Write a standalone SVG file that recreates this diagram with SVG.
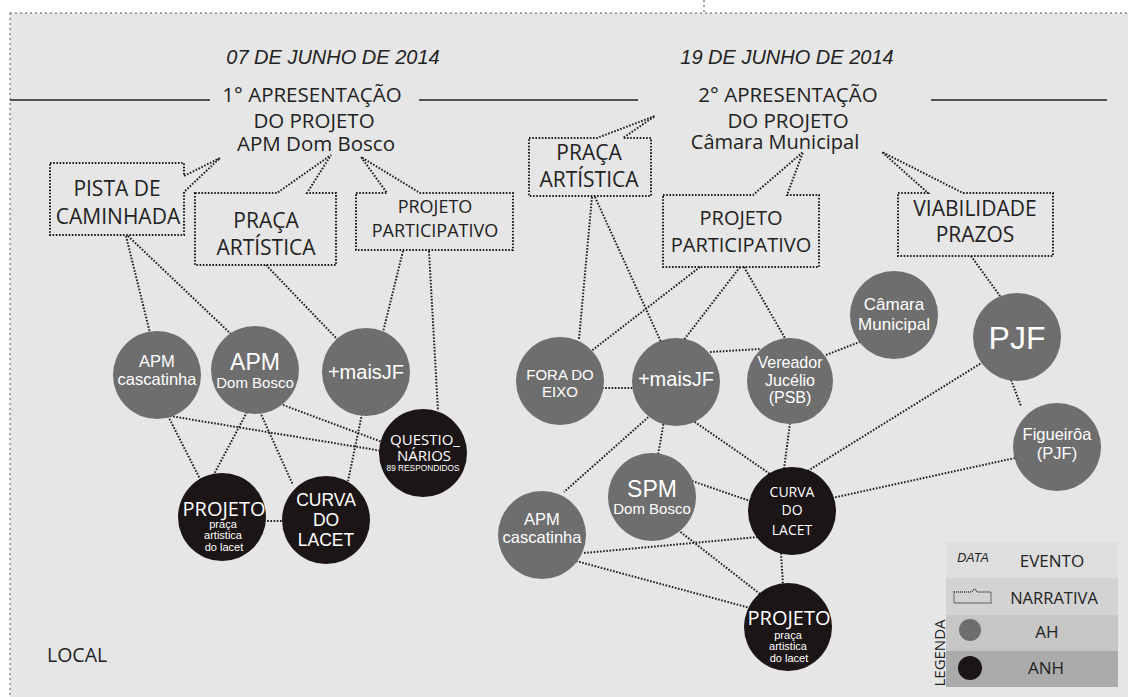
<svg xmlns="http://www.w3.org/2000/svg" width="1128" height="697" viewBox="0 0 1128 697">
<style>
.bg{fill:#e6e6e6}
.border{fill:none;stroke:#555;stroke-width:1;stroke-dasharray:2 3}
.rule{stroke:#222;stroke-width:1.6}
.dot{fill:none;stroke:#1e1e1e;stroke-width:2;stroke-dasharray:1.6 1.6}
.ah{fill:#6e6e6e}
.anh{fill:#1b1515}
.date{font-family:"Liberation Sans",Arial,sans-serif;font-style:italic;font-size:20px;fill:#222;text-anchor:middle}
.head{font-family:"Open Sans","Noto Sans",sans-serif;font-size:20.5px;fill:#222;text-anchor:middle}
.box{font-family:"Open Sans","Noto Sans",sans-serif;font-size:21px;fill:#222;text-anchor:middle}
.w{font-family:"Liberation Sans",Arial,sans-serif;fill:#fff;text-anchor:middle}
.ws{font-family:"Open Sans","Noto Sans",sans-serif;fill:#fff;text-anchor:middle}
.leg{font-family:"Open Sans","Noto Sans",sans-serif;fill:#222;text-anchor:middle}
</style>
<rect x="0" y="0" width="1128" height="697" fill="#fff"/>
<rect class="bg" x="10" y="13" width="1118" height="684"/>
<path class="border" d="M10,13 H1128 M10,13 V697 M704,0 V13"/>

<g id="headings">
<text class="date" x="333" y="64">07 DE JUNHO DE 2014</text>
<text class="date" x="787" y="64">19 DE JUNHO DE 2014</text>
<line class="rule" x1="10" y1="100" x2="210" y2="100"/>
<line class="rule" x1="419" y1="100" x2="638" y2="100"/>
<line class="rule" x1="931" y1="100" x2="1107" y2="100"/>
</g>
<g id="evento1">
<text class="head" x="312" y="102">1° APRESENTAÇÃO</text>
<text class="head" x="314" y="128">DO PROJETO</text>
<text class="head" x="316" y="151">APM Dom Bosco</text>
</g>
<g id="evento2">
<text class="head" x="788" y="102">2° APRESENTAÇÃO</text>
<text class="head" x="788" y="128">DO PROJETO</text>
<text class="head" x="775" y="149" style="font-size:20px">Câmara Municipal</text>
</g>

<g id="connectors">
<line class="dot" x1="126" y1="236" x2="150" y2="333"/>
<line class="dot" x1="128" y1="236" x2="232" y2="335"/>
<line class="dot" x1="266" y1="265" x2="338" y2="340"/>
<line class="dot" x1="403" y1="251" x2="383" y2="332"/>
<line class="dot" x1="429" y1="251" x2="438" y2="411"/>
<line class="dot" x1="168" y1="416" x2="200" y2="479"/>
<line class="dot" x1="170" y1="416" x2="382" y2="451"/>
<line class="dot" x1="283" y1="405" x2="382" y2="442"/>
<line class="dot" x1="247" y1="412" x2="213" y2="476"/>
<line class="dot" x1="260" y1="412" x2="293" y2="485"/>
<line class="dot" x1="362" y1="414" x2="348" y2="481"/>
<line class="dot" x1="264" y1="521" x2="285" y2="521"/>

<line class="dot" x1="592" y1="197" x2="579" y2="339"/>
<line class="dot" x1="595" y1="197" x2="661" y2="342"/>
<line class="dot" x1="700" y1="267" x2="590" y2="352"/>
<line class="dot" x1="740" y1="267" x2="683" y2="341"/>
<line class="dot" x1="744" y1="267" x2="786" y2="340"/>
<line class="dot" x1="971" y1="256" x2="1000" y2="296"/>
<line class="dot" x1="602" y1="388" x2="635" y2="388"/>
<line class="dot" x1="710" y1="352" x2="760" y2="349"/>
<line class="dot" x1="826" y1="355" x2="862" y2="341"/>
<line class="dot" x1="653" y1="413" x2="564" y2="492"/>
<line class="dot" x1="664" y1="421" x2="658" y2="455"/>
<line class="dot" x1="692" y1="420" x2="770" y2="474"/>
<line class="dot" x1="790" y1="423" x2="784" y2="469"/>
<line class="dot" x1="983" y1="362" x2="806" y2="472"/>
<line class="dot" x1="1011" y1="380" x2="1021" y2="406"/>
<line class="dot" x1="1015" y1="458" x2="832" y2="498"/>
<line class="dot" x1="692" y1="481" x2="750" y2="501"/>
<line class="dot" x1="678" y1="530" x2="760" y2="594"/>
<line class="dot" x1="584" y1="553" x2="758" y2="537"/>
<line class="dot" x1="576" y1="561" x2="750" y2="608"/>
<line class="dot" x1="781" y1="553" x2="783" y2="585"/>
</g>

<g id="narr-pista">
<path class="dot" d="M50,163 H184 V176 L220,158 L184,192 V235 H50 Z"/>
<text class="box" x="117" y="196">PISTA DE</text>
<text class="box" x="118" y="224">CAMINHADA</text>
</g>
<g id="narr-praca1">
<path class="dot" d="M195,193 H277 L331,155 L307,193 H336 V265 H195 Z"/>
<text class="box" x="266" y="228">PRAÇA</text>
<text class="box" x="266" y="255">ARTÍSTICA</text>
</g>
<g id="narr-projeto1">
<path class="dot" d="M356,193 H387 L361,157 L420,193 H513 V250 H356 Z"/>
<text class="box" x="435" y="213" style="font-size:18px">PROJETO</text>
<text class="box" x="435" y="237" style="font-size:18px">PARTICIPATIVO</text>
</g>
<g id="narr-praca2">
<path class="dot" d="M529,138 H597 L655,116 L623,138 H651 V196 H529 Z"/>
<text class="box" x="589" y="160">PRAÇA</text>
<text class="box" x="589" y="187">ARTÍSTICA</text>
</g>
<g id="narr-projeto2">
<path class="dot" d="M663,195 H753 L803,152 L787,195 H819 V267 H663 Z"/>
<text class="box" x="741" y="225" style="font-size:20px">PROJETO</text>
<text class="box" x="741" y="252" style="font-size:20px">PARTICIPATIVO</text>
</g>
<g id="narr-viab">
<path class="dot" d="M898,193 H928 L882,152 L963,193 H1053 V256 H898 Z"/>
<text class="box" x="975" y="216">VIABILIDADE</text>
<text class="box" x="975" y="242">PRAZOS</text>
</g>

<g id="l-apm-cascatinha">
<circle class="ah" cx="157" cy="375" r="44"/>
<text class="w" x="157" y="367" font-size="16.5">APM</text>
<text class="w" x="157" y="385" font-size="16.5">cascatinha</text>
</g>
<g id="l-apm-dombosco">
<circle class="ah" cx="255" cy="370" r="44"/>
<text class="w" x="255" y="370" font-size="23">APM</text>
<text class="w" x="255" y="388" font-size="15">Dom Bosco</text>
</g>
<g id="l-maisjf">
<circle class="ah" cx="366" cy="372" r="44"/>
<text class="w" x="366" y="379" font-size="20">+maisJF</text>
</g>
<g id="l-questionarios">
<circle class="anh" cx="423" cy="453" r="44"/>
<text class="ws" x="425" y="445" font-size="15">QUESTIO_</text>
<text class="ws" x="424" y="461" font-size="15">NÁRIOS</text>
<text class="w" x="423" y="471" font-size="8.3">89 RESPONDIDOS</text>
</g>
<g id="l-projeto">
<circle class="anh" cx="222" cy="517" r="44"/>
<text class="ws" x="224" y="516" font-size="20">PROJETO</text>
<text class="w" x="223" y="528" font-size="11">praça</text>
<text class="w" x="223" y="539" font-size="11">artistica</text>
<text class="w" x="224" y="551" font-size="11">do lacet</text>
</g>
<g id="l-curva">
<circle class="anh" cx="326" cy="520" r="44"/>
<text class="w" x="326" y="506" font-size="17.5">CURVA</text>
<text class="w" x="326" y="526" font-size="17.5">DO</text>
<text class="w" x="326" y="546" font-size="17.5">LACET</text>
</g>

<g id="r-fora-do-eixo">
<circle class="ah" cx="560" cy="381" r="44"/>
<text class="w" x="560" y="380" font-size="15">FORA DO</text>
<text class="w" x="560" y="397" font-size="15">EIXO</text>
</g>
<g id="r-maisjf">
<circle class="ah" cx="676" cy="382" r="44"/>
<text class="w" x="676" y="386" font-size="20">+maisJF</text>
</g>
<g id="r-vereador">
<circle class="ah" cx="790" cy="381" r="43"/>
<text class="w" x="790" y="368" font-size="16">Vereador</text>
<text class="w" x="790" y="386" font-size="16">Jucélio</text>
<text class="w" x="790" y="403" font-size="16">(PSB)</text>
</g>
<g id="r-camara">
<circle class="ah" cx="894" cy="315" r="44"/>
<text class="w" x="894" y="310" font-size="17">Câmara</text>
<text class="w" x="894" y="330" font-size="17">Municipal</text>
</g>
<g id="r-pjf">
<circle class="ah" cx="1017" cy="337" r="44"/>
<text class="w" x="1017" y="349" font-size="32">PJF</text>
</g>
<g id="r-figueiroa">
<circle class="ah" cx="1057" cy="447" r="44"/>
<text class="w" x="1057" y="440" font-size="16.5">Figueirôa</text>
<text class="w" x="1057" y="459" font-size="16.5">(PJF)</text>
</g>
<g id="r-spm">
<circle class="ah" cx="652" cy="497" r="44"/>
<text class="w" x="652" y="497" font-size="23">SPM</text>
<text class="w" x="652" y="514" font-size="15">Dom Bosco</text>
</g>
<g id="r-curva">
<circle class="anh" cx="792" cy="511" r="44"/>
<text class="ws" x="792" y="497" font-size="14">CURVA</text>
<text class="ws" x="792" y="515" font-size="14">DO</text>
<text class="ws" x="792" y="535" font-size="14">LACET</text>
</g>
<g id="r-apm-cascatinha">
<circle class="ah" cx="542" cy="535" r="44"/>
<text class="w" x="542" y="525" font-size="16.5">APM</text>
<text class="w" x="542" y="543" font-size="16.5">cascatinha</text>
</g>
<g id="r-projeto">
<circle class="anh" cx="788" cy="627" r="44"/>
<text class="ws" x="789" y="625" font-size="20">PROJETO</text>
<text class="w" x="788" y="639" font-size="11">praça</text>
<text class="w" x="788" y="650" font-size="11">artistica</text>
<text class="w" x="789" y="662" font-size="11">do lacet</text>
</g>

<text id="local" x="47" y="662" font-family="Open Sans, Noto Sans, sans-serif" font-size="19.5" fill="#222">LOCAL</text>

<g id="legenda">
<rect x="946" y="542" width="172" height="36" fill="#dedede"/>
<rect x="946" y="578" width="172" height="37" fill="#d3d3d3"/>
<rect x="946" y="615" width="172" height="36" fill="#c6c6c6"/>
<rect x="946" y="651" width="172" height="36" fill="#ababab"/>
<text x="973" y="562" font-family="Liberation Sans, Arial, sans-serif" font-style="italic" font-size="12.5" fill="#222" text-anchor="middle">DATA</text>
<text class="leg" x="1052" y="567" font-size="17">EVENTO</text>
<path d="M954,592 H971 L975,589 L977,592 H991 V603 H954 Z" fill="none" stroke="#333" stroke-width="1.3" stroke-dasharray="1 1"/>
<text class="leg" x="1054" y="604" font-size="16.5">NARRATIVA</text>
<circle cx="970" cy="630" r="11" fill="#6e6e6e"/>
<text class="leg" x="1047" y="638" font-size="17">AH</text>
<circle cx="970" cy="668" r="12" fill="#1b1515"/>
<text class="leg" x="1046" y="674" font-size="17">ANH</text>
<text class="leg" x="0" y="0" font-size="15" transform="translate(945,653) rotate(-90)">LEGENDA</text>
</g>
</svg>
